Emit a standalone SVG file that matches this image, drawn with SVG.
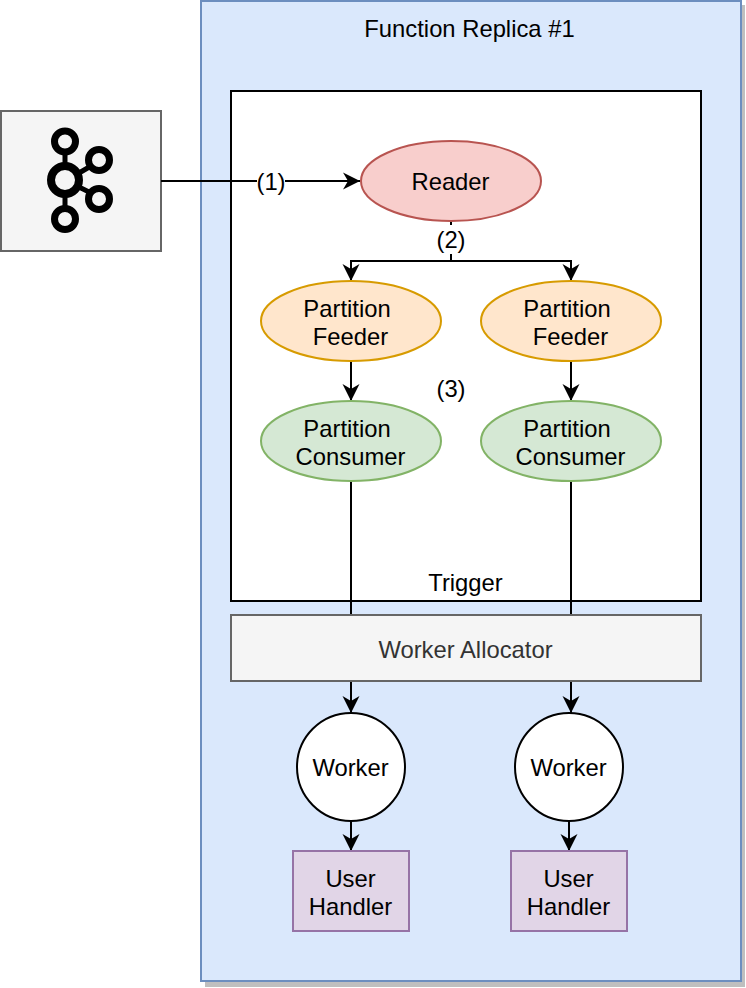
<svg xmlns="http://www.w3.org/2000/svg" width="746" height="988" viewBox="0 0 746 988">
<style>
text{font-family:"Liberation Sans",Arial,sans-serif;font-size:23.8px;fill:#000;text-anchor:middle}
.s{stroke-width:2}
.c{fill:none;stroke:#000;stroke-width:2}
.r{fill:none;stroke:#000}
</style>
<defs>
<marker id="a" markerUnits="userSpaceOnUse" markerWidth="20" markerHeight="20" refX="17" refY="9" orient="auto">
<path d="M0 0.5 L17 9 L0 17.5 L5 9 Z" fill="#000"/>
</marker>
</defs>
<rect width="746" height="988" fill="#fff"/>
<g id="replica">
<rect x="205" y="5" width="540" height="982" fill="#bfbfbf"/>
<rect class="s" x="201" y="1" width="540" height="980" fill="#dae8fc" stroke="#6c8ebf"/>
<text x="469.500" y="36.500">Function Replica #1</text>
</g>
<g id="trigger">
<rect class="s" x="231" y="91" width="470" height="510" fill="#fff" stroke="#000"/>
<text x="465.500" y="590.500">Trigger</text>
</g>
<g id="kafka">
<rect class="s" x="1" y="111" width="160" height="140" fill="#f5f5f5" stroke="#666"/>
<path d="M65 150V170M65 192V210M79 173L91 166M79 187L91 193" fill="none" stroke="#000" stroke-width="5"/>
<circle class="r" cx="65" cy="141.500" r="10.500" stroke-width="7"/>
<circle class="r" cx="65" cy="180" r="14" stroke-width="8"/>
<circle class="r" cx="99" cy="160" r="10.500" stroke-width="7"/>
<circle class="r" cx="99" cy="199" r="10.500" stroke-width="7"/>
<circle class="r" cx="65" cy="219" r="10.500" stroke-width="7"/>
</g>
<g id="connectors">
<path class="c" d="M161 181H360" marker-end="url(#a)"/>
<path class="c" d="M451 221V261H351V281" marker-end="url(#a)"/>
<path class="c" d="M451 261H571V281" marker-end="url(#a)"/>
<path class="c" d="M351 361V401" marker-end="url(#a)"/>
<path class="c" d="M571 361V401" marker-end="url(#a)"/>
<path class="c" d="M351 481V713" marker-end="url(#a)"/>
<path class="c" d="M571 481V713" marker-end="url(#a)"/>
<path class="c" d="M351 821V851" marker-end="url(#a)"/>
<path class="c" d="M569 821V851" marker-end="url(#a)"/>
<rect x="257" y="168" width="28" height="26" fill="#fff"/>
<text x="271" y="190">(1)</text>
<rect x="437" y="225" width="28" height="29" fill="#fff"/>
<text x="451" y="248">(2)</text>
<text x="451" y="397">(3)</text>
</g>
<g id="reader">
<ellipse class="s" cx="451" cy="181" rx="90" ry="40" fill="#f8cecc" stroke="#b85450"/>
<text x="450.500" y="190">Reader</text>
</g>
<g id="feeder1">
<ellipse class="s" cx="351" cy="321" rx="90" ry="40" fill="#ffe6cc" stroke="#d79b00"/>
<text x="347" y="316.500">Partition</text><text x="350.500" y="344.500">Feeder</text>
</g>
<g id="feeder2">
<ellipse class="s" cx="571" cy="321" rx="90" ry="40" fill="#ffe6cc" stroke="#d79b00"/>
<text x="567" y="316.500">Partition</text><text x="570.500" y="344.500">Feeder</text>
</g>
<g id="consumer1">
<ellipse class="s" cx="351" cy="441" rx="90" ry="40" fill="#d5e8d4" stroke="#82b366"/>
<text x="347" y="436.500">Partition</text><text x="350.500" y="464.500">Consumer</text>
</g>
<g id="consumer2">
<ellipse class="s" cx="571" cy="441" rx="90" ry="40" fill="#d5e8d4" stroke="#82b366"/>
<text x="567" y="436.500">Partition</text><text x="570.500" y="464.500">Consumer</text>
</g>
<g id="allocator">
<rect class="s" x="231" y="615" width="470" height="66" fill="#f5f5f5" stroke="#666"/>
<text x="465.500" y="657.500" style="fill:#333">Worker Allocator</text>
</g>
<g id="worker1">
<circle class="s" cx="351" cy="767" r="54" fill="#fff" stroke="#000"/>
<text x="350.500" y="776">Worker</text>
</g>
<g id="worker2">
<circle class="s" cx="569" cy="767" r="54" fill="#fff" stroke="#000"/>
<text x="568.500" y="776">Worker</text>
</g>
<g id="handler1">
<rect class="s" x="293" y="851" width="116" height="80" fill="#e1d5e7" stroke="#9673a6"/>
<text x="350.500" y="886.500">User</text><text x="350.500" y="914.500">Handler</text>
</g>
<g id="handler2">
<rect class="s" x="511" y="851" width="116" height="80" fill="#e1d5e7" stroke="#9673a6"/>
<text x="568.500" y="886.500">User</text><text x="568.500" y="914.500">Handler</text>
</g>
</svg>
